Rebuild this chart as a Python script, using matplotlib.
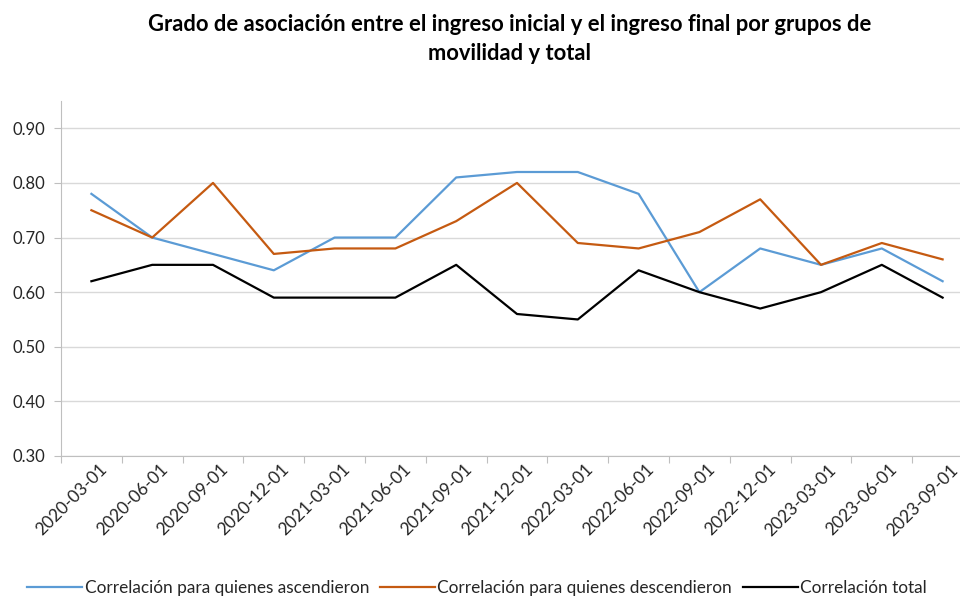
import matplotlib
matplotlib.use("Agg")
import matplotlib.pyplot as plt
import matplotlib.transforms as mtransforms
import numpy as np

plt.rcParams['font.family'] = ['Lato', 'DejaVu Sans']

fechas = ["2020-03-01", "2020-06-01", "2020-09-01", "2020-12-01", "2021-03-01",
          "2021-06-01", "2021-09-01", "2021-12-01", "2022-03-01", "2022-06-01",
          "2022-09-01", "2022-12-01", "2023-03-01", "2023-06-01", "2023-09-01"]
ascendieron = [0.78, 0.70, 0.67, 0.64, 0.70, 0.70, 0.81, 0.82, 0.82, 0.78,
               0.60, 0.68, 0.65, 0.68, 0.62]
descendieron = [0.75, 0.70, 0.80, 0.67, 0.68, 0.68, 0.73, 0.80, 0.69, 0.68,
                0.71, 0.77, 0.65, 0.69, 0.66]
total = [0.62, 0.65, 0.65, 0.59, 0.59, 0.59, 0.65, 0.56, 0.55, 0.64,
         0.60, 0.57, 0.60, 0.65, 0.59]
y_ticks = [0.30, 0.40, 0.50, 0.60, 0.70, 0.80, 0.90]

fig = plt.figure(figsize=(9.6, 5.98), dpi=100)
# axes runs a little past the right edge, as in the reference
ax = fig.add_axes([61 / 960, 142 / 598, 912 / 960, 355 / 598])

x = np.arange(len(fechas))
ax.plot(x, ascendieron, color="#5B9BD5", lw=1.6, label="Correlación para quienes ascendieron")
ax.plot(x, descendieron, color="#C55A11", lw=1.6, label="Correlación para quienes descendieron")
ax.plot(x, total, color="#000000", lw=1.6, label="Correlación total")

ax.set_xlim(-0.5, len(fechas) - 0.5)
ax.set_ylim(0.30, 0.95)
ax.set_yticks(y_ticks)
ax.set_yticklabels([f"{v:.2f}" for v in y_ticks])
ax.yaxis.grid(True, color="#d9d9d9", lw=1)
ax.set_axisbelow(True)

# category ticks between points, labels at the centres
ax.set_xticks(np.arange(-0.5, len(fechas), 1.0))
ax.set_xticklabels([])
ax.set_xticks(x, minor=True)
ax.set_xticklabels(fechas, minor=True, rotation=45, ha="right", va="center",
                   rotation_mode="anchor", fontsize=12.5, color="#262626")
ax.tick_params(axis="x", which="minor", length=0, pad=8)
offset = mtransforms.ScaledTranslation(0.13, 0, fig.dpi_scale_trans)
for lab in ax.get_xticklabels(minor=True):
    lab.set_transform(lab.get_transform() + offset)
ax.tick_params(axis="x", which="major", length=5, color="#bfbfbf")
ax.tick_params(axis="y", length=5, color="#bfbfbf", labelsize=12, labelcolor="#262626", pad=6)

for s in ["top", "right"]:
    ax.spines[s].set_visible(False)
ax.spines["left"].set_color("#bfbfbf")
ax.spines["bottom"].set_color("#bfbfbf")

fig.suptitle("Grado de asociación entre el ingreso inicial y el ingreso final por grupos de\nmovilidad y total",
             x=0.531, y=0.976, fontsize=15.8, fontweight="bold", linespacing=1.45)

fig.legend(loc="lower center", bbox_to_anchor=(0.497, -0.022), ncol=3, frameon=False,
           fontsize=12.4, handlelength=3.2, handletextpad=0.15, columnspacing=0.6,
           labelcolor="#262626")

fig.savefig("out.png", dpi=100)
